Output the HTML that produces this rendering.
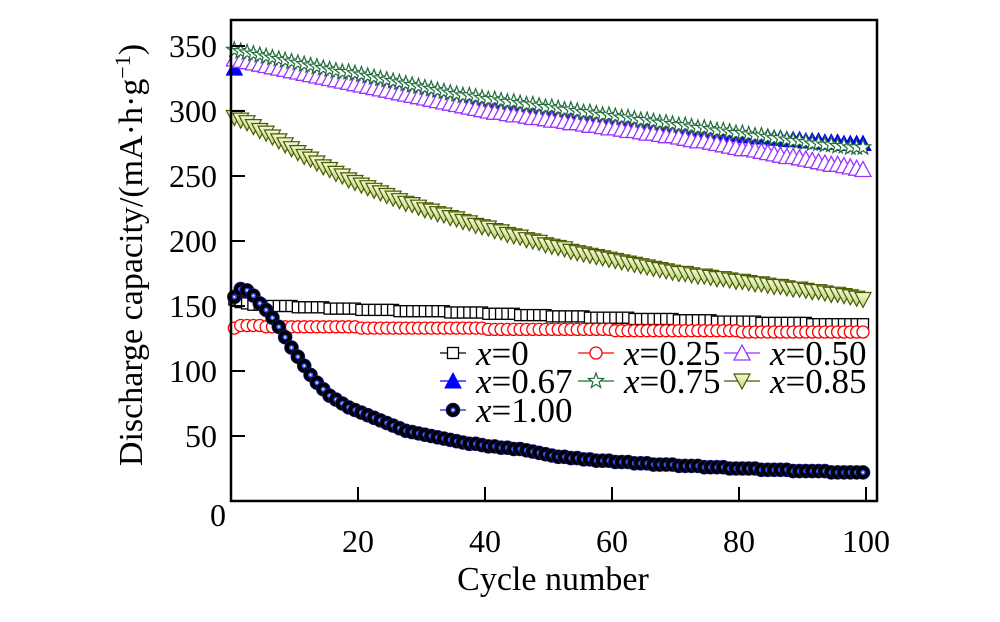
<!DOCTYPE html>
<html><head><meta charset="utf-8"><style>
html,body{margin:0;padding:0;background:#fff;}
svg text{font-family:"Liberation Serif",serif;fill:#000;}
</style></head><body>
<svg id="chart" width="1000" height="617" viewBox="0 0 1000 617" xmlns="http://www.w3.org/2000/svg">
<defs>
<linearGradient id="g85" x1="0" y1="0" x2="0" y2="1"><stop offset="0" stop-color="#f4f9d8"/><stop offset="1" stop-color="#b8d67a"/></linearGradient>
</defs>
<g id="series"></g>
<g id="axes"></g>
<g id="legend"></g>
</svg>
<script>
const xTicks = [20, 40, 60, 80, 100];
const yTicks = [0, 50, 100, 150, 200, 250, 300, 350];
const s_0 = [155,153,152,151,151,150,150,150,150,150,149,149,149,149,149,148,148,148,148,148,147,147,147,147,147,147,146,146,146,146,146,146,146,146,145,145,145,145,145,145,144,144,144,144,144,143,143,143,143,143,142,142,142,142,142,142,141,141,141,141,141,141,141,140,140,140,140,140,140,140,139,139,139,139,139,139,138,138,138,138,138,138,138,137,137,137,137,137,137,137,137,136,136,136,136,136,136,136,136,136];
const s_025 = [133,135,135,135,135,134,134,134,134,134,134,134,134,134,134,134,134,134,134,134,133,133,133,133,133,133,133,133,133,133,133,133,133,133,133,133,133,133,133,133,132,132,132,132,132,132,132,132,132,132,132,132,132,132,132,132,132,132,132,132,131,131,131,131,131,131,131,131,131,131,131,131,131,131,131,131,131,131,131,131,130,130,130,130,130,130,130,130,130,130,130,130,130,130,130,130,130,130,130,130];
const s_050 = [340,339,338,337,336,335,334,333,332,331,330,329,328,327,326,325,324,323,322,321,320,319,318,317,316,315,314,313,312,311,310,309,308,307,306,305,304,303,302,301,300,299,299,298,297,297,296,295,295,294,293,293,292,291,291,290,289,289,288,287,287,286,285,285,284,283,283,282,281,281,280,279,278,277,277,276,275,274,273,272,271,271,270,269,268,267,266,265,265,264,263,262,261,260,259,259,258,257,256,255];
const s_067 = [333,338,340,339,338,337,336,334,333,332,331,330,329,328,328,327,326,325,324,323,322,321,321,320,319,318,317,316,315,314,313,313,312,311,310,309,308,307,306,305,304,303,303,302,301,300,300,299,298,297,297,296,295,294,294,293,292,291,291,290,290,289,289,288,288,287,287,287,286,286,285,285,284,284,284,283,283,282,282,282,281,281,280,280,280,279,279,278,278,278,277,277,277,276,276,276,275,275,275,275];
const s_075 = [347,346,345,344,343,342,341,340,339,338,337,336,335,334,333,332,331,330,330,329,328,327,326,325,324,323,322,321,320,319,318,317,316,315,314,313,312,312,311,310,309,309,308,307,307,306,305,305,304,303,303,302,301,301,300,299,299,298,297,297,296,295,295,294,293,293,292,291,291,290,289,289,288,287,287,286,285,285,284,283,283,282,281,281,280,279,279,278,277,277,276,275,275,274,274,273,273,272,272,272];
const s_085 = [295,293,291,288,285,283,280,277,274,271,268,265,263,260,257,255,252,250,247,245,243,241,239,237,235,233,231,229,228,226,224,223,221,220,218,217,215,214,212,211,210,208,207,205,204,203,201,200,199,197,196,195,194,192,191,190,189,188,187,186,185,184,183,182,181,180,179,178,177,176,175,175,174,173,173,172,171,171,170,169,169,168,167,167,166,165,165,164,163,163,162,161,161,160,159,159,158,157,156,155];
const s_100 = [157,163,162,158,152,147,141,134,126,118,111,104,97,91,86,81,78,75,72,70,68,66,64,62,60,58,56,54,53,52,51,50,49,48,47,46,45,44,44,43,42,42,41,41,40,40,39,38,37,36,35,34,34,33,33,32,32,31,31,31,30,30,30,29,29,29,28,28,28,28,27,27,27,27,26,26,26,26,25,25,25,25,25,24,24,24,24,24,23,23,23,23,23,23,22,22,22,22,22,22];

const NS = "http://www.w3.org/2000/svg";
const X0 = 231, XPX = 6.35, Y0 = 501, YPX = 1.3;
const sx = c => X0 + c * XPX - 3;
const sy = v => Y0 - v * YPX;
function mk(tag, attrs, parent){ const e=document.createElementNS(NS,tag); for(const k in attrs) e.setAttribute(k,attrs[k]); parent.appendChild(e); return e; }

function marker(type, x, y, parent){
  let e;
  if(type==='sq') e=mk('rect',{x:x-5.5,y:y-5.5,width:11,height:11,fill:'#fff',stroke:'#000','stroke-width':1.3},parent);
  else if(type==='circ') e=mk('circle',{cx:x,cy:y,r:6,fill:'#fff',stroke:'#ff0000','stroke-width':1.3},parent);
  else if(type==='tri50') e=mk('polygon',{points:`${x},${y-8} ${x-8},${y+7} ${x+8},${y+7}`,fill:'#fff',stroke:'#9933ff','stroke-width':1.3},parent);
  else if(type==='tri67') e=mk('polygon',{points:`${x},${y-8} ${x-8},${y+7} ${x+8},${y+7}`,fill:'#0000ff',stroke:'#0000ff','stroke-width':1},parent);
  else if(type==='star'){ let p=[]; for(let i=0;i<10;i++){const r=i%2?3.3:8;const a=-Math.PI/2+i*Math.PI/5;p.push((x+r*Math.cos(a)).toFixed(1)+','+(y+r*Math.sin(a)).toFixed(1));}
    e=mk('polygon',{points:p.join(' '),fill:'#fff',stroke:'#1f6b3a','stroke-width':1.2},parent);}
  else if(type==='tri85') e=mk('polygon',{points:`${x},${y+8} ${x-8},${y-7} ${x+8},${y-7}`,fill:'url(#g85)',stroke:'#4a5a00','stroke-width':1.2},parent);
  else if(type==='ball'){ e=mk('g',{},parent); mk('circle',{cx:x,cy:y,r:7,fill:'#000',stroke:'#2222aa','stroke-width':0.6},e); mk('circle',{cx:x,cy:y,r:2.6,fill:'#3355ff'},e); mk('circle',{cx:x,cy:y,r:1,fill:'#fff'},e);}
  return e;
}

const seriesG = document.getElementById('series');
const defs = [
  {name:'x-0.67',data:s_067,type:'tri67',col:'#0000ff'},
  {name:'x-0.50',data:s_050,type:'tri50',col:'#9933ff'},
  {name:'x-0.75',data:s_075,type:'star',col:'#1f6b3a'},
  {name:'x-0.85',data:s_085,type:'tri85',col:'#4a5a00'},
  {name:'x-0',data:s_0,type:'sq',col:'#000'},
  {name:'x-0.25',data:s_025,type:'circ',col:'#ff0000'},
  {name:'x-1.00',data:s_100,type:'ball',col:'#2222aa'}
];
defs.forEach(d=>{
  const g=mk('g',{},seriesG);
  
  
  const pts=d.data.map((v,i)=>sx(i+1).toFixed(1)+','+sy(v).toFixed(1)).join(' ');
  const ln=mk('polyline',{points:pts,fill:'none',stroke:d.col,'stroke-width':1},g);
  
  
  d.data.forEach((v,i)=>{
    const m=marker(d.type,sx(i+1),sy(v),g);
    
    
  });
});

// axes
const ax=document.getElementById('axes');
const frame=mk('rect',{x:231,y:20,width:646,height:481,fill:'none',stroke:'#000','stroke-width':2.5},ax);


xTicks.forEach(t=>{
  const x=X0+t*XPX;
  const tk=mk('line',{x1:x,y1:Y0,x2:x,y2:Y0-14,stroke:'#000','stroke-width':2},ax);
  
  
  const tx=mk('text',{x:x,y:552,'font-size':32,'text-anchor':'middle'},ax);
  tx.textContent=t;
  
  
});
yTicks.forEach(t=>{
  const y=sy(t);
  if(t>0){const tk=mk('line',{x1:X0,y1:y,x2:X0+14,y2:y,stroke:'#000','stroke-width':2},ax);
  
  }
  const tx=mk('text',{x:t===0?226:217,y:t===0?y+25:y+11,'font-size':32,'text-anchor':'end'},ax);
  tx.textContent=t;
  
  
});
const xt=mk('text',{x:553,y:590,'font-size':34,'text-anchor':'middle'},ax);
xt.textContent='Cycle number';


const yt=mk('text',{x:0,y:0,'font-size':34,'text-anchor':'middle',transform:'translate(142,255) rotate(-90)'},ax);
yt.innerHTML='Discharge capacity/(mA·h·g<tspan dy="-12" font-size="22">−1</tspan><tspan dy="12">)</tspan>';



// legend
const lg=document.getElementById('legend');
const leg=[
  {t:'0',type:'sq',col:'#000',x:440,y:353},
  {t:'0.25',type:'circ',col:'#ff0000',x:578,y:353},
  {t:'0.50',type:'tri50',col:'#9933ff',x:724,y:353},
  {t:'0.67',type:'tri67',col:'#0000ff',x:440,y:381},
  {t:'0.75',type:'star',col:'#1f6b3a',x:578,y:381},
  {t:'0.85',type:'tri85',col:'#4a5a00',x:724,y:381},
  {t:'1.00',type:'ball',col:'#2222aa',x:440,y:410}
];
leg.forEach(l=>{
  const g=mk('g',{},lg);
  
  
  const w=l.x===440?26:36;
  mk('line',{x1:l.x,y1:l.y,x2:l.x+w,y2:l.y,stroke:l.col,'stroke-width':1.2},g);
  marker(l.type,l.x+w/2,l.y,g);
  const tx=mk('text',{x:l.x+w+10,y:l.y+12,'font-size':35},g);
  tx.innerHTML='<tspan font-style="italic">x</tspan>=' + l.t;
});
</script>
</body></html>
